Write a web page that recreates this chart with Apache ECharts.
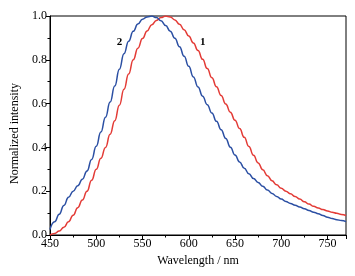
<!DOCTYPE html>
<html>
<head>
<meta charset="utf-8">
<script src="https://cdn.jsdelivr.net/npm/echarts@6/dist/echarts.min.js"></script>
<style>html,body{margin:0;padding:0;background:#fff;}#c{width:355px;height:276px;}</style>
</head>
<body>
<div id="c"></div>
<script>
var wavelengths = [450,455,460,465,470,475,480,485,490,495,500,505,510,515,520,525,530,535,540,545,550,555,560,565,570,575,580,585,590,595,600,605,610,615,620,625,630,635,640,645,650,655,660,665,670,675,680,685,690,695,700,705,710,715,720,725,730,735,740,745,750,755,760,765,770];
var curve1 = [0.0,0.007,0.018,0.035,0.06,0.09,0.125,0.16,0.20,0.25,0.30,0.35,0.40,0.46,0.522,0.593,0.665,0.735,0.80,0.853,0.897,0.932,0.96,0.98,0.993,1.0,0.996,0.982,0.962,0.937,0.909,0.877,0.842,0.802,0.76,0.718,0.677,0.637,0.598,0.561,0.524,0.486,0.446,0.404,0.364,0.329,0.298,0.271,0.248,0.229,0.213,0.2,0.188,0.176,0.164,0.152,0.141,0.131,0.123,0.116,0.11,0.104,0.099,0.094,0.089];
var curve2 = [0.025,0.06,0.095,0.135,0.172,0.2,0.225,0.255,0.292,0.345,0.405,0.47,0.538,0.607,0.68,0.757,0.828,0.885,0.93,0.963,0.985,0.996,1.0,0.993,0.978,0.957,0.93,0.898,0.86,0.816,0.77,0.722,0.676,0.634,0.595,0.557,0.519,0.481,0.441,0.401,0.365,0.333,0.305,0.28,0.258,0.24,0.223,0.206,0.19,0.176,0.164,0.153,0.144,0.136,0.128,0.12,0.112,0.104,0.097,0.089,0.081,0.075,0.07,0.066,0.061];
var curveLabels = ['1','2'];
var labelPos = [[615,0.88],[525,0.88]];

function pairs(xs, ys){ return xs.map(function(x,i){ return [x, ys[i]]; }); }
var font = 'Liberation Serif';
var chart = echarts.init(document.getElementById('c'));
chart.setOption({
  animation:false,
  backgroundColor:'#fff',
  grid:{left:50,right:9,top:16,bottom:41,show:true,borderColor:'#000',borderWidth:1},
  xAxis:{
    type:'value',min:450,max:770,interval:50,
    name:'Wavelength / nm',nameLocation:'middle',nameGap:20,
    nameTextStyle:{fontFamily:font,fontSize:12,color:'#000'},
    axisLine:{lineStyle:{color:'#000',width:1}},
    axisTick:{show:true,inside:false,length:4,lineStyle:{color:'#000'}},
    minorTick:{show:true,splitNumber:2,length:2.5,lineStyle:{color:'#000'}},
    axisLabel:{fontFamily:font,fontSize:12,color:'#000',margin:3,showMaxLabel:false},
    splitLine:{show:false}
  },
  yAxis:{
    type:'value',min:0,max:1,interval:0.2,
    name:'Normalized intensity',nameLocation:'middle',nameGap:28,
    nameTextStyle:{fontFamily:font,fontSize:12,color:'#000',padding:[0,16,0,0]},
    axisLine:{lineStyle:{color:'#000',width:1}},
    axisTick:{show:true,inside:false,length:4,lineStyle:{color:'#000'}},
    minorTick:{show:true,splitNumber:2,length:2.5,lineStyle:{color:'#000'}},
    axisLabel:{fontFamily:font,fontSize:12,color:'#000',margin:3,formatter:function(v){return v.toFixed(1);}},
    splitLine:{show:false}
  },
  series:[
    {type:'line',data:pairs(wavelengths,curve1),smooth:0.5,smoothMonotone:'x',showSymbol:false,lineStyle:{color:'#e33b36',width:1.5},
     markPoint:{symbol:'circle',symbolSize:0,data:[{coord:labelPos[0],label:{show:true,formatter:curveLabels[0],fontFamily:font,fontWeight:'bold',fontSize:11,color:'#000',position:'inside'}}]}},
    {type:'line',data:pairs(wavelengths,curve2),smooth:0.5,smoothMonotone:'x',showSymbol:false,lineStyle:{color:'#2b4fa3',width:1.5},
     markPoint:{symbol:'circle',symbolSize:0,data:[{coord:labelPos[1],label:{show:true,formatter:curveLabels[1],fontFamily:font,fontWeight:'bold',fontSize:11,color:'#000',position:'inside'}}]}}
  ]
});
</script>
</body>
</html>
